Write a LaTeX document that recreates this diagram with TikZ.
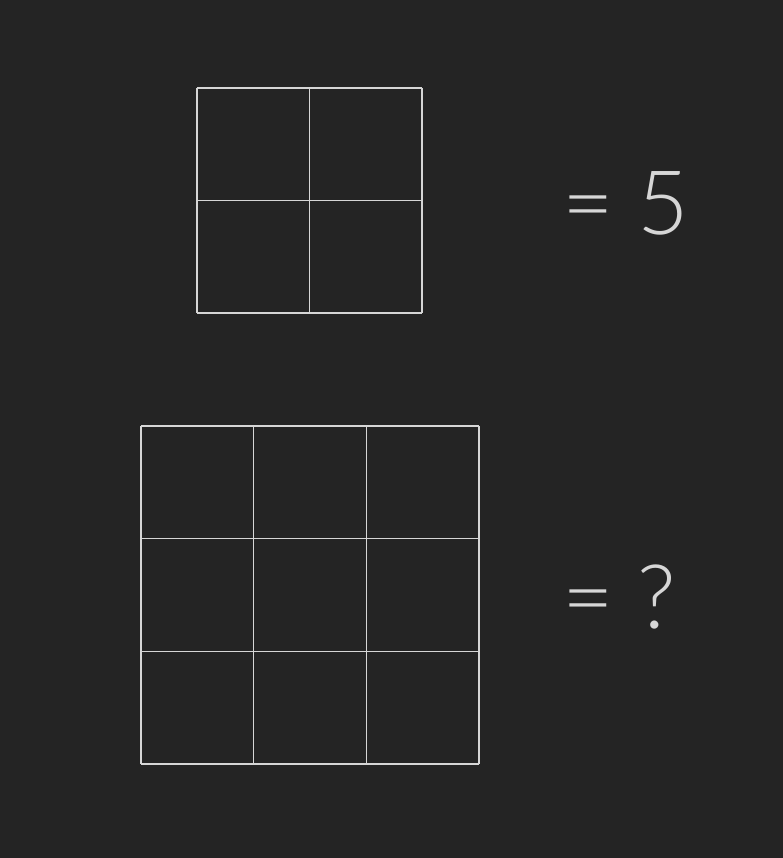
\documentclass[tikz,border=0pt]{standalone}
\usepackage{fontspec}
\setmainfont{Lato Light}
\usetikzlibrary{positioning}
\definecolor{board}{HTML}{242424}
\definecolor{chalk}{HTML}{D6D6D6}

\begin{document}
\begin{tikzpicture}[x=1pt,y=-1pt,
    gridline/.style={draw=chalk, line width=1.2pt},
    sum/.style={text=chalk, inner sep=0pt, font=\fontsize{89}{100}\selectfont}]
    \fill[board] (0,0) rectangle (783,858);

    % Top: 2x2 square
    \begin{scope}[shift={(197,88)}]
        \foreach \i in {0,1,2} {
            \draw[gridline] (\i*112.5,0) -- (\i*112.5,225);
            \draw[gridline] (0,\i*112.5) -- (225,\i*112.5);
        }
    \end{scope}
    \node[sum, anchor=base west] (five) at (562,235) {= 5};

    % Bottom: 3x3 square
    \begin{scope}[shift={(141,426)}]
        \foreach \i in {0,1,2,3} {
            \draw[gridline] (\i*112.67,0) -- (\i*112.67,338);
            \draw[gridline] (0,\i*112.67) -- (338,\i*112.67);
        }
    \end{scope}
    \node[sum, anchor=base west] (what) at (562,628) {= ?};
\end{tikzpicture}
\end{document}
